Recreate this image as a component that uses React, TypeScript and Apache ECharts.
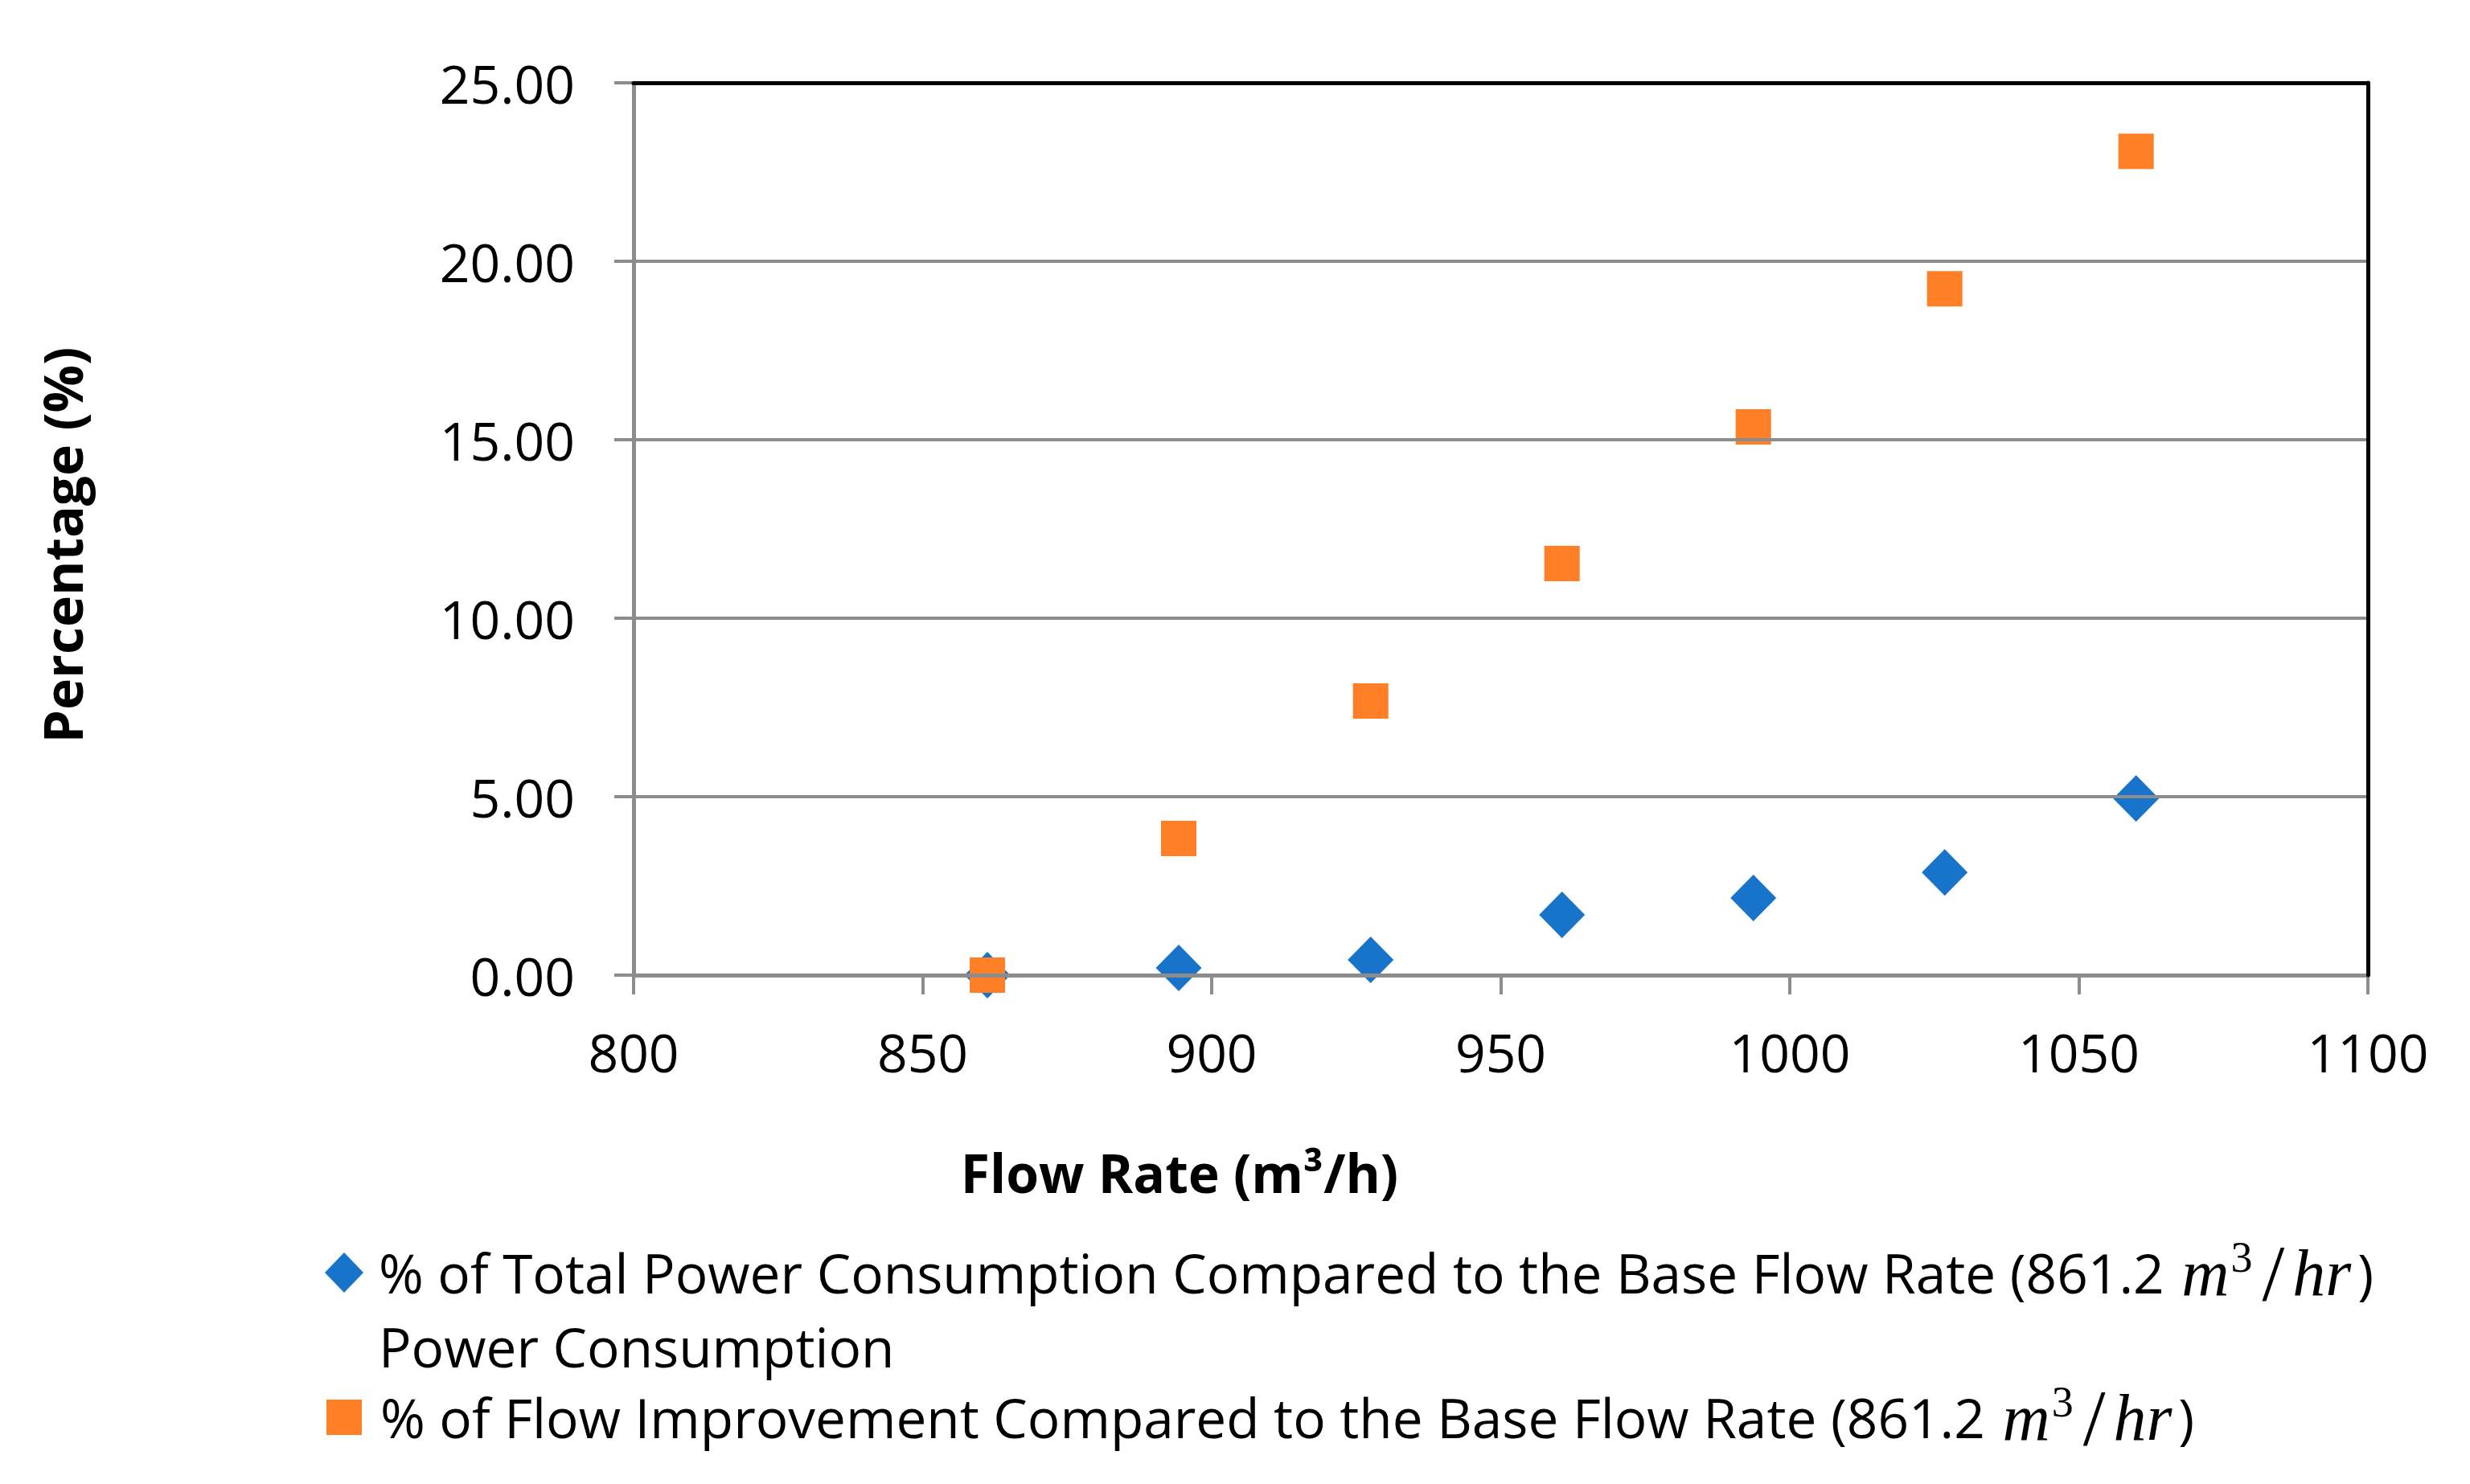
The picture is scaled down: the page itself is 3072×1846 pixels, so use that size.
import React, { useEffect, useRef } from "react";
import * as echarts from "echarts";

// Flow rate (m³/h) of each operating point
const flowRates = [861.2, 894.3, 927.5, 960.6, 993.7, 1026.8, 1059.9];
// % of total power consumption compared to the base flow rate
const powerPct = [0.0, 0.2, 0.43, 1.69, 2.16, 2.88, 4.95];
// % of flow improvement compared to the base flow rate
const flowPct = [0.0, 3.83, 7.68, 11.53, 15.36, 19.23, 23.08];

const xMin = 800;
const xMax = 1100;
const xStep = 50;
const yMin = 0;
const yMax = 25;
const yStep = 5;

const seriesNames = [
  "% of Total Power Consumption Compared to the Base Flow Rate (861.2 m³/hr) Power Consumption",
  "% of Flow Improvement Compared to the Base Flow Rate (861.2 m³/hr)",
];
const legendRich = [
  "% of Total Power Consumption Compared to the Base Flow Rate (861.2 {m0|m}{sup|3}{sl|/}{hr|hr})\nPower Consumption",
  "% of Flow Improvement Compared to the Base Flow Rate (861.2 {m0|m}{sup|3}{sl|/}{hr|hr})",
];
const xTitle = "Flow Rate (m³/h)";
const yTitle = "Percentage (%)";

const FONT = "'Open Sans', 'Noto Sans', sans-serif";
const MATH = "'Liberation Serif', 'DejaVu Serif', serif";
const LH = 92;

export default function App() {
  const ref = useRef<HTMLDivElement>(null);

  useEffect(() => {
    if (!ref.current) return;
    const chart = echarts.init(ref.current, null, { renderer: "svg" });

    const pts1 = flowRates.map((x, i) => [x, powerPct[i]]);
    const pts2 = flowRates.map((x, i) => [x, flowPct[i]]);

    const richStyles = {
      m0: {
        fontFamily: MATH,
        fontStyle: "italic",
        fontSize: 82,
        lineHeight: LH,
        padding: [0, 0, 0, 4],
        color: "#000",
      },
      hr: {
        fontFamily: MATH,
        fontStyle: "italic",
        fontSize: 82,
        lineHeight: LH,
        padding: [0, 8, 0, 8],
        color: "#000",
      },
      sup: {
        fontFamily: MATH,
        fontSize: 54,
        lineHeight: 30,
        verticalAlign: "top",
        padding: [0, 12, 0, 2],
        color: "#000",
      },
      sl: {
        fontFamily: MATH,
        fontSize: 100,
        lineHeight: LH,
        padding: [0, 2, 0, 0],
        color: "#000",
      },
    };

    const blackEdge = { show: true, onZero: false, lineStyle: { color: "#000", width: 5 } };

    chart.setOption({
      animation: false,
      backgroundColor: "#fff",
      grid: {
        left: 788,
        right: 127,
        top: 103,
        bottom: 633,
        show: true,
        borderColor: "#000",
        borderWidth: 4,
        backgroundColor: "transparent",
      },
      xAxis: [
        {
          type: "value",
          min: xMin,
          max: xMax,
          interval: xStep,
          z: 5,
          axisLine: { show: true, onZero: false, lineStyle: { color: "#8c8c8c", width: 5 } },
          axisTick: { show: true, inside: false, length: 24, lineStyle: { color: "#8c8c8c", width: 4 } },
          splitLine: { show: false },
          axisLabel: {
            margin: 62,
            fontSize: 66,
            fontFamily: FONT,
            color: "#000",
            formatter: (v: number) => String(v),
          },
        },
        {
          type: "value",
          position: "top",
          min: xMin,
          max: xMax,
          interval: xStep,
          z: 10,
          axisLine: blackEdge,
          axisTick: { show: false },
          axisLabel: { show: false },
          splitLine: { show: false },
        },
      ],
      yAxis: [
        {
          type: "value",
          min: yMin,
          max: yMax,
          interval: yStep,
          z: 5,
          axisLine: { show: true, onZero: false, lineStyle: { color: "#8c8c8c", width: 5 } },
          axisTick: { show: true, inside: false, length: 24, lineStyle: { color: "#8c8c8c", width: 4 } },
          splitLine: { show: true, lineStyle: { color: "#8c8c8c", width: 4 } },
          axisLabel: {
            margin: 73,
            fontSize: 66,
            fontFamily: FONT,
            color: "#000",
            formatter: (v: number) => v.toFixed(2),
          },
        },
        {
          type: "value",
          position: "right",
          min: yMin,
          max: yMax,
          interval: yStep,
          z: 10,
          axisLine: blackEdge,
          axisTick: { show: false },
          axisLabel: { show: false },
          splitLine: { show: false },
        },
      ],
      legend: [
        {
          data: [{ name: seriesNames[0], icon: "diamond" }],
          orient: "vertical",
          left: 404,
          top: 1583 - 1.5 * LH,
          padding: 0,
          itemWidth: 48,
          itemHeight: 50,
          selectedMode: false,
          formatter: () => legendRich[0],
          textStyle: {
            fontFamily: FONT,
            fontSize: 67.5,
            lineHeight: LH,
            color: "#000",
            padding: [LH, 0, 0, 14],
            rich: richStyles,
          },
        },
        {
          data: [{ name: seriesNames[1], icon: "rect" }],
          orient: "vertical",
          left: 406,
          top: 1759 - LH / 2,
          padding: 0,
          itemWidth: 44,
          itemHeight: 44,
          selectedMode: false,
          formatter: () => legendRich[1],
          textStyle: {
            fontFamily: FONT,
            fontSize: 67.5,
            lineHeight: LH,
            color: "#000",
            padding: [0, 0, 0, 18],
            rich: richStyles,
          },
        },
      ],
      graphic: [
        {
          type: "text",
          x: 77,
          y: 678,
          rotation: Math.PI / 2,
          style: {
            text: yTitle,
            font: `bold 66px ${FONT}`,
            fill: "#000",
            align: "center",
            verticalAlign: "middle",
          },
        },
        {
          type: "text",
          x: 1467,
          y: 1458,
          style: {
            text: xTitle,
            font: `bold 66px ${FONT}`,
            fill: "#000",
            align: "center",
            verticalAlign: "middle",
          },
        },
      ],
      series: [
        {
          name: seriesNames[0],
          type: "scatter",
          symbol: "diamond",
          symbolSize: [57, 58],
          itemStyle: { color: "#1874cb", opacity: 1 },
          data: pts1,
          z: 3,
        },
        {
          name: seriesNames[1],
          type: "scatter",
          symbol: "rect",
          symbolSize: 44,
          itemStyle: { color: "#ff7f27", opacity: 1 },
          data: pts2,
          z: 4,
        },
      ],
    });

    return () => chart.dispose();
  }, []);

  return (
    <div
      ref={ref}
      style={{ position: "absolute", left: 0, top: 0, width: 3072, height: 1846, background: "#fff" }}
    />
  );
}
